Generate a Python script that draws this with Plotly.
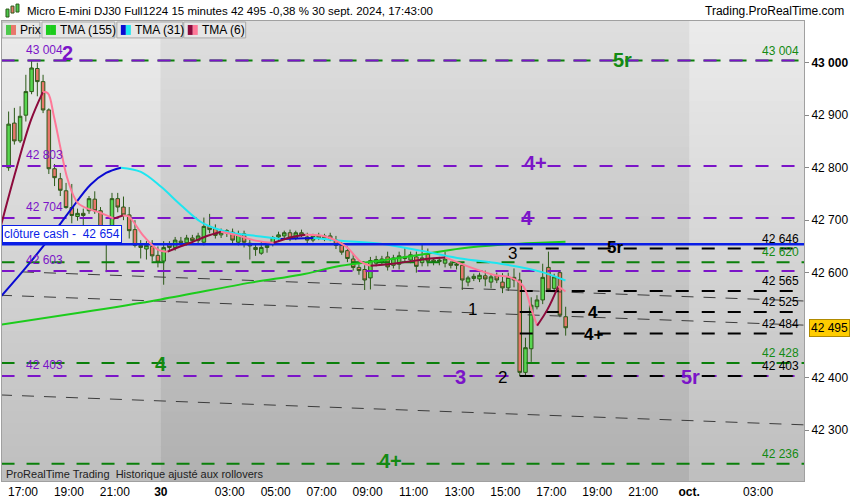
import plotly.graph_objects as go

# ---------------- data ----------------
FRI_OPEN = [42800,42885,42851,42900,42945,42989,42964,42910,42798,42779,42756,42724,42707,42713,42718,42740,42718,42662,42680,42741,42725,42710,42682,42652,42645,42650,42633]
FRI_HIGH = [42907,42914,42917,42977,43004,43000,42977,42913,42807,42790,42771,42769,42722,42722,42746,42755,42725,42690,42752,42752,42745,42725,42700,42662,42660,42662,42650]
FRI_LOW = [42794,42844,42847,42888,42940,42936,42904,42788,42765,42746,42722,42694,42699,42690,42712,42712,42655,42601,42670,42715,42700,42665,42648,42627,42625,42622,42610]
FRI_CLOSE = [42883,42851,42898,42945,42990,42964,42910,42798,42781,42757,42724,42709,42713,42709,42741,42718,42662,42680,42741,42725,42710,42680,42652,42648,42652,42632,42620]

MON_OPEN = [42622,42654,42648,42660,42657,42666,42661,42658,42688,42684,42672,42676,42677,42658,42674,42656,42648,42637,42648,42656,42668,42670,42676,42666,42676,42668,42662,42670,42666,42670,42662,42652,42642,42626,42610,42606,42590,42618,42620,42630,42614,42616,42630,42624,42630,42619,42635,42624,42621,42618,42618,42614,42614,42582,42589,42588,42594,42582,42594,42582,42571,42591,42586,42410,42455,42535,42548,42610,42570,42600,42516]
MON_HIGH = [42660,42660,42668,42668,42672,42672,42676,42705,42712,42692,42684,42683,42684,42680,42680,42663,42656,42660,42658,42670,42678,42680,42682,42680,42682,42676,42674,42676,42674,42676,42670,42658,42650,42636,42616,42614,42630,42632,42632,42640,42634,42640,42648,42640,42640,42654,42646,42628,42630,42640,42622,42622,42620,42594,42598,42600,42604,42598,42600,42599,42600,42608,42600,42476,42553,42557,42617,42640,42598,42605,42535]
MON_LOW = [42577,42640,42642,42650,42652,42655,42656,42652,42675,42665,42666,42668,42656,42652,42648,42625,42632,42634,42638,42650,42660,42664,42660,42662,42668,42656,42658,42662,42660,42660,42645,42634,42620,42604,42596,42567,42568,42612,42614,42604,42608,42606,42620,42618,42600,42612,42612,42614,42614,42610,42608,42606,42567,42574,42584,42582,42574,42570,42580,42561,42565,42572,42403,42405,42430,42530,42540,42563,42566,42515,42480]
MON_CLOSE = [42648,42648,42662,42657,42666,42661,42670,42688,42682,42671,42677,42680,42662,42674,42658,42651,42644,42648,42652,42667,42672,42676,42666,42676,42672,42662,42670,42666,42670,42664,42652,42639,42627,42610,42604,42586,42623,42625,42626,42611,42628,42632,42627,42634,42612,42628,42622,42621,42624,42626,42614,42616,42586,42590,42593,42595,42588,42592,42586,42571,42591,42586,42410,42457,42538,42548,42591,42567,42592,42519,42495]

FRI_FIRST_BAR = "2024-09-27 16:15"
MON_FIRST_BAR = "2024-09-30 00:00"

TMA155_T = ["2024-09-27 16:03","2024-09-27 19:31","2024-09-30 00:00","2024-09-30 03:55","2024-09-30 06:05","2024-09-30 07:50","2024-09-30 09:34","2024-09-30 11:18","2024-09-30 13:03","2024-09-30 14:47","2024-09-30 16:31","2024-09-30 17:37"]
TMA155_V = [42501,42524,42549,42581,42596,42613,42623,42634,42646,42653,42657,42659]

TMA31_T = ["2024-09-27 16:03","2024-09-27 17:08","2024-09-27 18:13","2024-09-27 19:05","2024-09-27 19:57","2024-09-27 20:37","2024-09-27 21:16","2024-09-27 22:08","2024-09-30 00:00","2024-09-30 00:52","2024-09-30 01:44","2024-09-30 02:23","2024-09-30 03:03","2024-09-30 04:21","2024-09-30 05:13","2024-09-30 06:39","2024-09-30 07:50","2024-09-30 09:34","2024-09-30 11:18","2024-09-30 13:03","2024-09-30 14:47","2024-09-30 16:31","2024-09-30 17:37"]
TMA31_V = [42555,42610,42669,42720,42768,42790,42800,42792,42764,42729,42697,42684,42676,42669,42664,42666,42661,42655,42642,42627,42617,42602,42585]

TMA6_T = ["2024-09-27 16:03","2024-09-27 16:42","2024-09-27 17:21","2024-09-27 17:52","2024-09-27 18:05","2024-09-27 18:21","2024-09-27 18:39","2024-09-27 18:57","2024-09-27 19:23","2024-09-27 19:57","2024-09-27 20:23","2024-09-27 20:57","2024-09-27 21:21","2024-09-27 21:36","2024-09-27 22:16","2024-09-27 22:52","2024-09-30 00:18","2024-09-30 00:44","2024-09-30 01:18","2024-09-30 01:57","2024-09-30 02:37","2024-09-30 03:16","2024-09-30 04:08","2024-09-30 04:55","2024-09-30 05:39","2024-09-30 06:18","2024-09-30 07:10","2024-09-30 08:03","2024-09-30 08:42","2024-09-30 09:08","2024-09-30 10:26","2024-09-30 11:44","2024-09-30 12:23","2024-09-30 13:29","2024-09-30 14:34","2024-09-30 15:13","2024-09-30 15:47","2024-09-30 16:08","2024-09-30 16:23","2024-09-30 16:50","2024-09-30 17:18","2024-09-30 17:37"]
TMA6_V = [42691,42796,42891,42944,42942,42897,42834,42777,42733,42720,42714,42703,42709,42707,42669,42644,42640,42648,42657,42669,42678,42672,42661,42657,42667,42672,42669,42650,42621,42613,42619,42627,42629,42610,42595,42591,42574,42530,42499,42530,42574,42564]

PURPLE_LEVELS = [43004, 42803, 42704, 42603, 42403]
GREEN_LEVELS = [43004, 42620, 42428, 42236]
BLACK_LEVELS = [42646, 42565, 42525, 42484, 42403]
BLACK_START = "2024-09-30 15:30"
CASH_CLOSE = 42654

CHANNEL_T = ["2024-09-27 16:00", "2024-10-01 05:00"]
CHANNELS = [[42603, 42546], [42557, 42500], [42367, 42310]]

MARK_T = ["2024-09-27 18:57","2024-09-30 20:05","2024-09-30 16:18","2024-09-30 15:57","2024-09-30 15:18","2024-09-30 19:47","2024-09-30 13:34","2024-09-30 18:50","2024-09-30 18:50","2024-09-30 00:00","2024-09-30 13:03","2024-09-30 14:52","2024-10-01 00:03","2024-09-30 10:00"]
MARK_P = [43018, 43005, 42809, 42705, 42636, 42648, 42530, 42524, 42482, 42425, 42402, 42400, 42402, 42241]
MARK_TXT = ["2","5r","4+","4","3","5r","1","4","4+","4","3","2","5r","4+"]
MARK_KIND = ["purple","green","purple","purple","black_r","black","black_r","black","black","green","purple","black_r","purple","green"]

TICK_T = ["2024-09-27 17:00","2024-09-27 19:00","2024-09-27 21:00","2024-09-30 00:00","2024-09-30 03:00","2024-09-30 05:00","2024-09-30 07:00","2024-09-30 09:00","2024-09-30 11:00","2024-09-30 13:00","2024-09-30 15:00","2024-09-30 17:00","2024-09-30 19:00","2024-09-30 21:00","2024-10-01 00:00","2024-10-01 03:00"]
TICK_L = ["17:00","19:00","21:00","<b>30</b>","03:00","05:00","07:00","09:00","11:00","13:00","15:00","17:00","19:00","21:00","<b>oct.</b>","03:00"]
Y_TICKS = [42300, 42400, 42600, 42700, 42800, 42900, 43000]
LAST_PRICE = 42495
TITLE = "Micro E-mini DJ30 Full1224 15 minutes 42 495 -0,38 % 30 sept. 2024, 17:43:00"

# ---------------- helpers ----------------
SESSION_OFFSET = {"2024-09-27": -23.0, "2024-09-30": 0.0, "2024-10-01": 23.0}


def sx(ts):
    d, t = ts.split(" ")
    hh, mm = t.split(":")
    return SESSION_OFFSET[d] + int(hh) + int(mm) / 60.0


def fmt(v):
    return f"{v:,}".replace(",", " ")


BAR_H = 0.25
fri_x = [sx(FRI_FIRST_BAR) + BAR_H * i + BAR_H / 2 for i in range(len(FRI_OPEN))]
mon_x = [sx(MON_FIRST_BAR) + BAR_H * i + BAR_H / 2 for i in range(len(MON_OPEN))]
X = fri_x + mon_x
O = FRI_OPEN + MON_OPEN
H = FRI_HIGH + MON_HIGH
L = FRI_LOW + MON_LOW
C = FRI_CLOSE + MON_CLOSE

# pixel geometry of the plot area
PL, PR, PT, PB = 1, 804, 21, 483
PXH = 23.0
XMIN = -(160 - PL) / PXH
XMAX = (PR - 160) / PXH
YMIN, YMAX = 42203, 43079.5


def px(xp):
    return (xp - PL) / (PR - PL)


def py(yp):
    return (PB - yp) / (PB - PT)


FONT = "Liberation Sans, Arial, sans-serif"
PURPLE = "#7b14c8"
GREEN = "#0b800b"
GREEN_T = "#138a13"
BLACK = "#000000"
COLORS = {"purple": PURPLE, "green": GREEN_T, "black": BLACK, "black_r": BLACK}

fig = go.Figure()
shapes = []
annotations = []

# background gradient bands (day alternation)
N = 40
regions = [(XMIN - 1, 0.0, 236, 190), (0.0, 23.0, 223, 176), (23.0, XMAX + 1, 236, 190)]
for x0, x1, ctop, cbot in regions:
    for i in range(N):
        f = (i + 0.5) / N
        c = int(round(ctop + (cbot - ctop) * f))
        shapes.append(dict(type="rect", xref="x", yref="paper", x0=x0, x1=x1,
                           y0=1 - (i + 1) / N, y1=1 - i / N + 0.001,
                           fillcolor=f"rgb({c},{c},{c})", line=dict(width=0), layer="below"))

# channel lines
for vals in CHANNELS:
    fig.add_trace(go.Scatter(x=[sx(t) for t in CHANNEL_T], y=vals, mode="lines",
                             line=dict(color="#3c3c3c", width=1, dash="12px,10px"), hoverinfo="skip"))

# green levels
for lv in GREEN_LEVELS:
    dash = "17px,9px" if lv in PURPLE_LEVELS else "13px,12px"
    fig.add_trace(go.Scatter(x=[XMIN - 0.02, XMAX + 1], y=[lv, lv], mode="lines",
                             line=dict(color=GREEN, width=2, dash=dash), hoverinfo="skip"))
# purple levels
for lv in PURPLE_LEVELS:
    fig.add_trace(go.Scatter(x=[XMIN - 0.02, XMAX + 1], y=[lv, lv], mode="lines",
                             line=dict(color=PURPLE, width=2, dash="13px,13px"), hoverinfo="skip"))
# black levels
bx0 = sx(BLACK_START) + BAR_H / 2
for lv in BLACK_LEVELS:
    fig.add_trace(go.Scatter(x=[bx0, XMAX + 1], y=[lv, lv], mode="lines",
                             line=dict(color=BLACK, width=2, dash="13px,13px"), hoverinfo="skip"))

# TMA 155
fig.add_trace(go.Scatter(x=[sx(t) for t in TMA155_T], y=TMA155_V, mode="lines",
                         line=dict(color="#1ccc1c", width=2, shape="spline"), hoverinfo="skip"))


def add_dir_line(times, vals, up_color, down_color, width):
    xs = [sx(t) for t in times]
    segs = []
    cur = None
    sxs, sys_ = [xs[0]], [vals[0]]
    for i in range(1, len(xs)):
        d = vals[i] >= vals[i - 1]
        if cur is None or d == cur:
            sxs.append(xs[i]); sys_.append(vals[i]); cur = d
        else:
            segs.append((cur, sxs, sys_))
            sxs, sys_ = [xs[i - 1], xs[i]], [vals[i - 1], vals[i]]
            cur = d
    segs.append((cur, sxs, sys_))
    for d, xx, yy in segs:
        fig.add_trace(go.Scatter(x=xx, y=yy, mode="lines",
                                 line=dict(color=up_color if d else down_color, width=width, shape="spline"),
                                 hoverinfo="skip"))


add_dir_line(TMA31_T, TMA31_V, "#0a0ad2", "#1ee6f0", 2)

# cash close line
fig.add_trace(go.Scatter(x=[XMIN - 0.02, XMAX + 1], y=[CASH_CLOSE, CASH_CLOSE], mode="lines",
                         line=dict(color="#0a1ee6", width=2.5), hoverinfo="skip"))

# candles
fig.add_trace(go.Candlestick(
    x=X, open=O, high=H, low=L, close=C,
    increasing=dict(fillcolor="#58d650", line=dict(color="#2c5a18", width=1)),
    decreasing=dict(fillcolor="#e8776c", line=dict(color="#2c5a18", width=1)),
    whiskerwidth=0, hoverinfo="skip", showlegend=False))

add_dir_line(TMA6_T, TMA6_V, "#8c0a3c", "#ff7898", 2)

# level labels
for lv in PURPLE_LEVELS:
    annotations.append(dict(xref="paper", x=px(23), y=lv, yref="y", text=fmt(lv), showarrow=False,
                            xanchor="left", yanchor="bottom", yshift=2,
                            font=dict(family=FONT, size=12, color=PURPLE)))
for lv in GREEN_LEVELS:
    annotations.append(dict(xref="paper", x=1, y=lv, yref="y", text=fmt(lv), showarrow=False,
                            xanchor="right", xshift=-3, yanchor="bottom", yshift=1,
                            font=dict(family=FONT, size=12, color=GREEN_T)))
for lv in BLACK_LEVELS:
    annotations.append(dict(xref="paper", x=1, y=lv, yref="y", text=fmt(lv), showarrow=False,
                            xanchor="right", xshift=-3, yanchor="bottom", yshift=1,
                            font=dict(family=FONT, size=12, color=BLACK)))

# pivot markers
for t, p, txt, k in zip(MARK_T, MARK_P, MARK_TXT, MARK_KIND):
    size = 17 if k.startswith("black") else 20
    bold = not k == "black_r"
    annotations.append(dict(x=sx(t), y=p, text=f"<b>{txt}</b>" if bold else txt, showarrow=False,
                            font=dict(family=FONT, size=size, color=COLORS[k])))

# cash close label
annotations.append(dict(xref="paper", x=0, y=CASH_CLOSE, yref="y", text="clôture cash -  " + fmt(CASH_CLOSE),
                        showarrow=False, xanchor="left", yanchor="bottom", yshift=1,
                        bgcolor="#ffffff", bordercolor="#0a1ee6", borderwidth=1, borderpad=1,
                        font=dict(family=FONT, size=12, color="#0a1ee6")))

# last price box
annotations.append(dict(xref="paper", x=1, y=LAST_PRICE, yref="y", text=fmt(LAST_PRICE), showarrow=False,
                        xanchor="left", xshift=5, bgcolor="#ffcc00", bordercolor="#b08a00", borderwidth=1,
                        borderpad=1, font=dict(family=FONT, size=12, color="#000")))

# title & branding
annotations.append(dict(xref="paper", yref="paper", x=px(24), y=py(11), text=TITLE, showarrow=False,
                        xanchor="left", yanchor="middle", font=dict(family=FONT, size=11.5, color="#000")))
annotations.append(dict(xref="paper", yref="paper", x=px(846), y=py(11), text="Trading.ProRealTime.com",
                        showarrow=False, xanchor="right", yanchor="middle",
                        font=dict(family=FONT, size=12, color="#000")))
annotations.append(dict(xref="paper", yref="paper", x=px(3), y=py(476),
                        text="ProRealTime Trading  Historique ajusté aux rollovers", showarrow=False,
                        xanchor="left", yanchor="middle", font=dict(family=FONT, size=11, color="#222")))

# title icon
for (a, b, c0, c1, col) in [(5, 8, 9, 17, "#4cc94c"), (10, 13, 6, 13, "#e8776c"), (15, 18, 4, 12, "#4cc94c")]:
    shapes.append(dict(type="rect", xref="paper", yref="paper", x0=px(a), x1=px(b), y0=py(c1), y1=py(c0),
                       fillcolor=col, line=dict(color="#2c5a18", width=1)))

# legend boxes
legend = [(1, 39, "Prix", ("#4cc94c", "#e8776c")), (41, 114, "TMA (155)", ("#1ccc1c", "#1ccc1c")),
          (116, 182, "TMA (31)", ("#0a0ad2", "#1ee6f0")), (183, 245, "TMA (6)", ("#8c0a3c", "#ff7898"))]
for a, b, txt, cols in legend:
    shapes.append(dict(type="rect", xref="paper", yref="paper", x0=px(a), x1=px(b), y0=py(38), y1=py(22),
                       fillcolor="#e6e6e6", line=dict(color="#a8a8a8", width=1), layer="above"))
    shapes.append(dict(type="rect", xref="paper", yref="paper", x0=px(a + 4), x1=px(a + 9), y0=py(35), y1=py(25),
                       fillcolor=cols[0], line=dict(width=0), layer="above"))
    shapes.append(dict(type="rect", xref="paper", yref="paper", x0=px(a + 9), x1=px(a + 14), y0=py(35), y1=py(25),
                       fillcolor=cols[1], line=dict(width=0), layer="above"))
    annotations.append(dict(xref="paper", yref="paper", x=px(a + 16), y=py(30), text=txt, showarrow=False,
                            xanchor="left", yanchor="middle", font=dict(family=FONT, size=12, color="#000")))

fig.update_layout(
    width=850, height=500,
    margin=dict(l=PL, r=850 - PR, t=PT, b=500 - PB),
    paper_bgcolor="#ffffff", plot_bgcolor="#cccccc",
    showlegend=False, boxgap=0.12,
    shapes=shapes, annotations=annotations,
    xaxis=dict(range=[XMIN, XMAX], tickvals=[sx(t) for t in TICK_T], ticktext=TICK_L,
               showgrid=False, zeroline=False, showline=True, mirror=True, linecolor="#a0a0a0",
               ticks="", tickfont=dict(family=FONT, size=12, color="#000"), rangeslider=dict(visible=False),
               fixedrange=True),
    yaxis=dict(range=[YMIN, YMAX], side="right", tickvals=Y_TICKS,
               ticktext=[("<b>" + fmt(v) + "</b>") if v % 1000 == 0 else fmt(v) for v in Y_TICKS],
               showgrid=False, zeroline=False, showline=True, mirror=True, linecolor="#a0a0a0",
               ticks="outside", ticklen=4, tickcolor="#888", tickfont=dict(family=FONT, size=12, color="#000")),
)

fig.write_html("out.html", config={"displayModeBar": False},
               post_script="document.body.style.margin='0';document.body.style.padding='0';")
